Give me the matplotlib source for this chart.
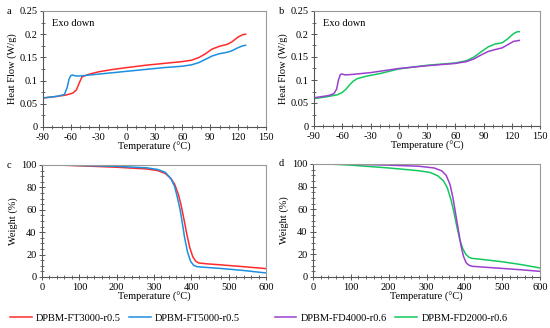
import numpy as np
import matplotlib
matplotlib.use('Agg')
import matplotlib.pyplot as plt
from matplotlib.ticker import MultipleLocator, FuncFormatter
from matplotlib.lines import Line2D

plt.rcParams['font.family'] = ['Liberation Serif', 'DejaVu Serif']
plt.rcParams['font.size'] = 7.5
plt.rcParams['axes.unicode_minus'] = False

##### data #####
# DSC, panel a
t_a_red = [-88, -75, -65, -58, -54, -51, -48, -40, -30, -15, 0, 20, 40, 60, 70, 78, 85, 92, 100, 108, 113, 120, 125, 128]
hf_a_red = [0.063, 0.066, 0.069, 0.073, 0.080, 0.095, 0.108, 0.114, 0.119, 0.124, 0.128, 0.133, 0.137, 0.141, 0.144, 0.150, 0.158, 0.168, 0.174, 0.178, 0.183, 0.194, 0.199, 0.200]
t_a_blue = [-88, -75, -67, -64, -62, -60, -58, -55, -50, -40, -20, 0, 20, 40, 60, 70, 78, 85, 92, 100, 108, 113, 120, 125, 128]
hf_a_blue = [0.063, 0.066, 0.070, 0.085, 0.103, 0.111, 0.112, 0.110, 0.110, 0.112, 0.116, 0.120, 0.124, 0.128, 0.131, 0.134, 0.139, 0.146, 0.153, 0.158, 0.161, 0.164, 0.171, 0.175, 0.176]
# DSC, panel b
t_b_purple = [-88, -75, -69, -66, -64, -62, -60, -57, -50, -30, 0, 30, 60, 72, 80, 88, 95, 102, 110, 116, 122, 128]
hf_b_purple = [0.062, 0.066, 0.070, 0.080, 0.100, 0.112, 0.113, 0.111, 0.112, 0.116, 0.125, 0.131, 0.136, 0.140, 0.146, 0.155, 0.162, 0.166, 0.170, 0.177, 0.184, 0.186]
t_b_green = [-88, -75, -65, -60, -56, -52, -48, -44, -35, -20, 0, 30, 60, 72, 80, 88, 95, 102, 110, 116, 122, 126, 128]
hf_b_green = [0.060, 0.064, 0.068, 0.073, 0.080, 0.090, 0.098, 0.103, 0.108, 0.114, 0.124, 0.132, 0.137, 0.142, 0.150, 0.162, 0.172, 0.178, 0.181, 0.190, 0.201, 0.205, 0.205]
# TGA, panel c
t_c_red = [40, 100, 200, 280, 310, 330, 345, 355, 365, 372, 380, 388, 396, 404, 412, 420, 440, 480, 540, 600]
w_c_red = [100, 99.3, 98, 96.5, 95, 92.5, 88, 83, 74, 65, 52, 38, 26, 18, 14, 12.5, 11.8, 10.8, 9.2, 7.5]
t_c_blue = [40, 100, 200, 280, 310, 330, 345, 355, 362, 370, 376, 382, 390, 398, 406, 415, 430, 480, 540, 600]
w_c_blue = [100, 99.6, 98.8, 97.5, 96, 93.5, 88, 81, 72, 60, 48, 35, 22, 14, 10.5, 9.2, 8.8, 7.6, 5.8, 3.6]
# TGA, panel d
t_d_purple = [40, 100, 200, 280, 320, 340, 352, 362, 370, 377, 384, 391, 398, 405, 412, 420, 440, 500, 550, 600]
w_d_purple = [100, 99.8, 99, 98, 96.5, 94, 90, 82, 70, 56, 42, 28, 18, 12.5, 10.5, 9.5, 9, 7.6, 6.4, 5]
t_d_green = [40, 100, 200, 280, 310, 330, 345, 355, 365, 372, 380, 388, 396, 404, 412, 420, 440, 500, 550, 600]
w_d_green = [100, 99, 96.5, 94, 92.5, 89.5, 85, 79, 68, 58, 45, 33, 25, 20, 17.5, 16.5, 15.8, 13.5, 11, 8]

lab_red = 'DPBM-FT3000-r0.5'
lab_blue = 'DPBM-FT5000-r0.5'
lab_purple = 'DPBM-FD4000-r0.6'
lab_green = 'DPBM-FD2000-r0.6'
################

c_red = '#FF2B2B'
c_blue = '#1C8FE0'
c_purple = '#9B3FCF'
c_green = '#13C85E'

fig = plt.figure(figsize=(5.5, 3.28), dpi=100)
W, H = 550.0, 328.0

def add_ax(l, t, r, b):
    return fig.add_axes([l / W, 1 - b / H, (r - l) / W, (b - t) / H])

ax_a = add_ax(43, 11, 266, 127)
ax_b = add_ax(314, 11, 540, 126)
ax_c = add_ax(42, 165, 266, 277)
ax_d = add_ax(313, 164, 540, 277)

def fmt_num(v, pos):
    s = ('%.2f' % v).rstrip('0').rstrip('.')
    return s

def style(ax):
    for side in ['top', 'right']:
        ax.spines[side].set_color('#999999')
    for side in ['left', 'bottom']:
        ax.spines[side].set_color('#555555')
    for sp in ax.spines.values():
        sp.set_linewidth(0.8)
    ax.tick_params(which='major', direction='inout', length=4, width=0.7, color='#555555', pad=2)
    ax.tick_params(which='minor', direction='inout', length=2.5, width=0.6, color='#555555')

for ax in (ax_a, ax_b):
    ax.set_xlim(-90, 150)
    ax.set_ylim(0, 0.25)
    ax.xaxis.set_major_locator(MultipleLocator(30))
    ax.xaxis.set_minor_locator(MultipleLocator(10))
    ax.yaxis.set_major_locator(MultipleLocator(0.05))
    ax.yaxis.set_minor_locator(MultipleLocator(0.025))
    ax.yaxis.set_major_formatter(FuncFormatter(fmt_num))
    ax.set_xlabel('Temperature (°C)', labelpad=0)
    ax.set_ylabel('Heat Flow (W/g)', labelpad=2)
    ax.text(0.04, 0.93, 'Exo down', transform=ax.transAxes, va='top', ha='left')
    style(ax)

for ax in (ax_c, ax_d):
    ax.set_xlim(0, 600)
    ax.set_ylim(0, 100)
    ax.xaxis.set_major_locator(MultipleLocator(100))
    ax.xaxis.set_minor_locator(MultipleLocator(20))
    ax.yaxis.set_major_locator(MultipleLocator(20))
    ax.yaxis.set_minor_locator(MultipleLocator(5))
    ax.set_xlabel('Temperature (°C)', labelpad=0)
    ax.set_ylabel('Weight (%)', labelpad=2)
    style(ax)

lw = 1.1
ax_a.plot(t_a_red, hf_a_red, color=c_red, lw=lw)
ax_a.plot(t_a_blue, hf_a_blue, color=c_blue, lw=lw)
ax_b.plot(t_b_green, hf_b_green, color=c_green, lw=lw)
ax_b.plot(t_b_purple, hf_b_purple, color=c_purple, lw=lw)
ax_c.plot(t_c_red, w_c_red, color=c_red, lw=lw)
ax_c.plot(t_c_blue, w_c_blue, color=c_blue, lw=lw)
ax_d.plot(t_d_green, w_d_green, color=c_green, lw=lw)
ax_d.plot(t_d_purple, w_d_purple, color=c_purple, lw=lw)

for ax, letter, x, y in [(ax_a, 'a', 7, 11), (ax_b, 'b', 279, 11), (ax_c, 'c', 7, 165), (ax_d, 'd', 279, 164)]:
    fig.text(x / W, 1 - y / H, letter, ha='left', va='center', fontsize=7.5)

h1 = [Line2D([], [], color=c_red, lw=lw), Line2D([], [], color=c_blue, lw=lw)]
h2 = [Line2D([], [], color=c_purple, lw=lw), Line2D([], [], color=c_green, lw=lw)]
fig.legend(h1, [lab_red, lab_blue], loc='center', bbox_to_anchor=(125 / W, 1 - 318 / H),
           ncol=2, frameon=False, handlelength=2.1, columnspacing=0.8, handletextpad=0.4, fontsize=7.5)
fig.legend(h2, [lab_purple, lab_green], loc='center', bbox_to_anchor=(391 / W, 1 - 318 / H),
           ncol=2, frameon=False, handlelength=2.1, columnspacing=0.8, handletextpad=0.4, fontsize=7.5)

fig.savefig('out.png', dpi=100)
